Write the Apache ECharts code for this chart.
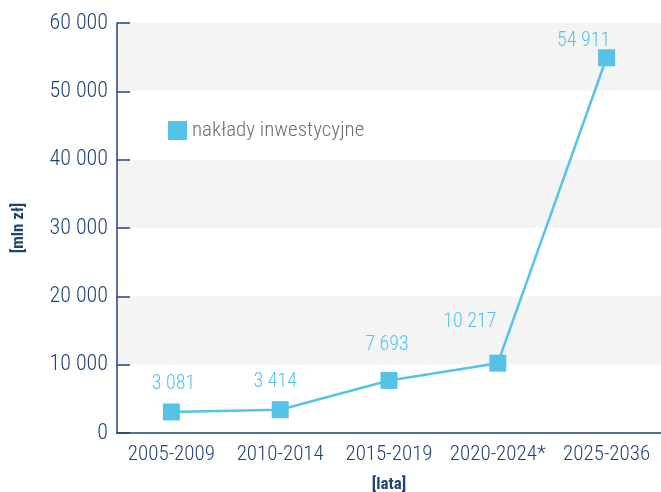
<!DOCTYPE html>
<html>
<head>
<meta charset="utf-8">
<script src="https://cdn.jsdelivr.net/npm/echarts@6/dist/echarts.min.js"></script>
<style>
  html, body { margin: 0; padding: 0; background: #fff; }
  #chart { width: 661px; height: 492px; }
</style>
</head>
<body>
<div id="chart"></div>
<script>
    // dane
    var categories = ['2005-2009', '2010-2014', '2015-2019', '2020-2024*', '2025-2036'];
    var naklady = [3081, 3414, 7693, 10217, 54911];
    var yTicks = [0, 10000, 20000, 30000, 40000, 50000, 60000];
    // przesunięcia etykiet (tylko wygląd)
    var labelShift = [[2, 3], [-5, 3], [-2, -5], [-28, -11], [-23, 14]];

    var navy = '#1f4474';
    var blue = '#55c3e8';
    var font = '"Roboto Condensed", "Roboto", sans-serif';

    function fmt(v) {
        return String(v).replace(/\B(?=(\d{3})+(?!\d))/g, ' ');
    }

    var seriesData = naklady.map(function (v, i) {
        return { value: v, label: { offset: labelShift[i] } };
    });

    var myChart = echarts.init(document.getElementById('chart'));

    var option = {
        animation: false,
        textStyle: { fontFamily: font },
        grid: { left: 117, right: 0, top: 23, bottom: 59, outerBoundsMode: 'none', containLabel: false },
        legend: {
            left: 163,
            top: 115,
            itemWidth: 19,
            itemHeight: 19,
            itemGap: 10,
            icon: 'rect',
            data: ['nakłady inwestycyjne'],
            textStyle: { color: '#6f6f6f', fontSize: 21, fontWeight: 300, fontFamily: font }
        },
        xAxis: {
            type: 'category',
            data: categories,
            boundaryGap: true,
            name: '[lata]',
            nameLocation: 'middle',
            nameGap: 43,
            nameTextStyle: { color: navy, fontSize: 17, fontWeight: 'bold', fontFamily: font },
            axisLine: { lineStyle: { color: navy, width: 1.5 } },
            axisTick: { inside: true, length: 15, lineStyle: { color: navy, width: 1.5 } },
            axisLabel: { color: navy, fontSize: 21, fontWeight: 300, margin: 11, interval: 0, fontFamily: font }
        },
        yAxis: {
            type: 'value',
            min: 0,
            max: 60000,
            interval: 10000,
            name: '[mln zł]',
            nameLocation: 'middle',
            nameGap: 90,
            nameRotate: 90,
            nameTextStyle: { color: navy, fontSize: 17, fontWeight: 'bold', fontFamily: font },
            axisLine: { show: true, lineStyle: { color: navy, width: 1.5 } },
            axisTick: { show: true, inside: true, length: 13, lineStyle: { color: navy, width: 1.5 } },
            axisLabel: {
                color: navy, fontSize: 22, fontWeight: 300, margin: 9, fontFamily: font,
                formatter: function (v) { return yTicks.indexOf(v) >= 0 ? fmt(v) : ''; }
            },
            splitLine: { show: false },
            splitArea: { show: true, areaStyle: { color: ['#ffffff', '#f4f4f4'] } }
        },
        series: [{
            name: 'nakłady inwestycyjne',
            type: 'line',
            data: seriesData,
            symbol: 'rect',
            symbolSize: 17,
            itemStyle: { color: blue },
            lineStyle: { color: blue, width: 2.5 },
            label: {
                show: true,
                position: 'top',
                distance: 12,
                color: blue,
                fontSize: 20,
                fontWeight: 300,
                fontFamily: font,
                formatter: function (p) { return fmt(p.value); }
            }
        }]
    };

    myChart.setOption(option);
</script>
</body>
</html>
